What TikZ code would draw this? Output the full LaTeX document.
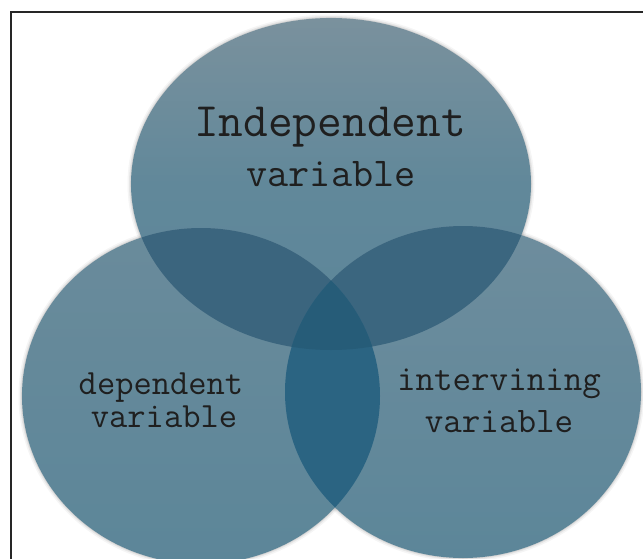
\documentclass[tikz,border=0pt]{standalone}
\usepackage{fontspec}
\begin{document}
\begin{tikzpicture}[x=1pt,y={(0pt,-1pt)},
  label/.style={text=black!88, anchor=base, inner sep=0pt},
  halo/.style={fill=black, opacity=#1}]
\useasboundingbox (0,0) rectangle (643,559);
\fill[white] (0,0) rectangle (643,559);

% circle outlines as reusable paths
\def\topE#1{(331,184) ellipse [x radius=200+#1, y radius=166+#1]}
\def\leftE#1{(201,396) ellipse [x radius=179+#1, y radius=168+#1]}
\def\rightE#1{(463,392) ellipse [x radius=178+#1, y radius=166+#1]}

% soft shadow around each circle
\foreach \r/\o in {3.5/0.04, 2/0.06, 0.8/0.08} {
  \fill[halo=\o] \topE{\r};
  \fill[halo=\o] \leftE{\r};
  \fill[halo=\o] \rightE{\r};
}

% single circles
\shade[top color={rgb,255:red,122;green,145;blue,157}, bottom color={rgb,255:red,92;green,134;blue,153}, middle color={rgb,255:red,97;green,136;blue,154}] \topE{0};
\shade[top color={rgb,255:red,106;green,139;blue,155}, bottom color={rgb,255:red,92;green,134;blue,153}] \leftE{0};
\shade[top color={rgb,255:red,110;green,141;blue,157}, bottom color={rgb,255:red,92;green,134;blue,153}] \rightE{0};

% pairwise overlaps
\begin{scope}
  \clip \topE{0};
  \fill[fill={rgb,255:red,59;green,101;blue,126}] \leftE{0};
  \fill[fill={rgb,255:red,59;green,102;blue,127}] \rightE{0};
\end{scope}
\begin{scope}
  \clip \leftE{0};
  \fill[fill={rgb,255:red,43;green,100;blue,130}] \rightE{0};
\end{scope}
% centre, common to all three
\begin{scope}
  \clip \topE{0};
  \clip \leftE{0};
  \fill[fill={rgb,255:red,38;green,92;blue,120}] \rightE{0};
\end{scope}

% frame
\draw[line width=1.1pt, black!85] (11,559) -- (11,12) -- (643,12);

% labels
\node[label, font=\ttfamily\fontsize{48}{48}\selectfont] (indep) at (330,137) {Independent};
\node[label, font=\ttfamily\fontsize{41}{41}\selectfont] (indepvar) at (331,187) {variable};
\node[label, font=\ttfamily\fontsize{35.5}{36}\selectfont] (dep) at (161,394) {dependent};
\node[label, font=\ttfamily\fontsize{35.5}{36}\selectfont] (depvar) at (164,427) {variable};
\node[label, font=\ttfamily\fontsize{36}{36}\selectfont] (interv) at (499,390) {intervining};
\node[label, font=\ttfamily\fontsize{36}{36}\selectfont] (intervvar) at (499,432) {variable};
\end{tikzpicture}
\end{document}
